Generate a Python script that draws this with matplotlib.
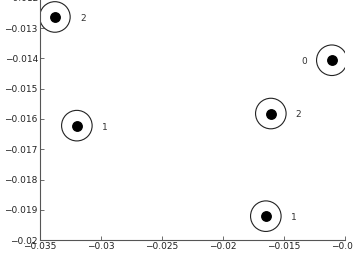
import matplotlib
matplotlib.use("Agg")
import matplotlib.pyplot as plt

# point data
xs = [-0.03377, -0.03197, -0.01107, -0.01607, -0.01648]
ys = [-0.01263, -0.01622, -0.01406, -0.01582, -0.01921]
labels = ["2", "1", "0", "2", "1"]
label_side = ["right", "right", "left", "right", "right"]

xticks = [-0.035, -0.03, -0.025, -0.02, -0.015, -0.01]
xticklabels = ["\u22120.035", "\u22120.03", "\u22120.025", "\u22120.02", "\u22120.015", "\u22120.01"]
yticks = [-0.02, -0.019, -0.018, -0.017, -0.016, -0.015, -0.014, -0.013, -0.012]
yticklabels = ["\u22120.02", "\u22120.019", "\u22120.018", "\u22120.017", "\u22120.016",
               "\u22120.015", "\u22120.014", "\u22120.013", "\u22120.012"]

fig = plt.figure(figsize=(3.53, 2.65), dpi=100)
ax = fig.add_axes([0.113, 0.094, 0.864, 0.914])

# open ring + filled dot for each point
ax.scatter(xs, ys, s=22**2, facecolors="none", edgecolors="#222222", linewidths=0.8, zorder=2)
ax.scatter(xs, ys, s=6.8**2, color="black", zorder=3)

for x, y, t, side in zip(xs, ys, labels, label_side):
    dx = 18 if side == "right" else -18
    ax.annotate(t, (x, y), xytext=(dx, -1), textcoords="offset points",
                ha="left" if side == "right" else "right", va="center",
                fontsize=6.5, color="#333333")

ax.set_xlim(-0.035, -0.01)
ax.set_ylim(-0.02, -0.012)
ax.set_xticks(xticks)
ax.set_xticklabels(xticklabels)
ax.set_yticks(yticks)
ax.set_yticklabels(yticklabels)

for s in ["top", "right"]:
    ax.spines[s].set_visible(False)
for s in ["left", "bottom"]:
    ax.spines[s].set_color("#555555")
    ax.spines[s].set_linewidth(0.8)
ax.tick_params(direction="in", length=3, width=0.6, colors="#555555",
               labelsize=6.5, labelcolor="#222222", pad=1.5)

fig.savefig("out.png", dpi=100)
